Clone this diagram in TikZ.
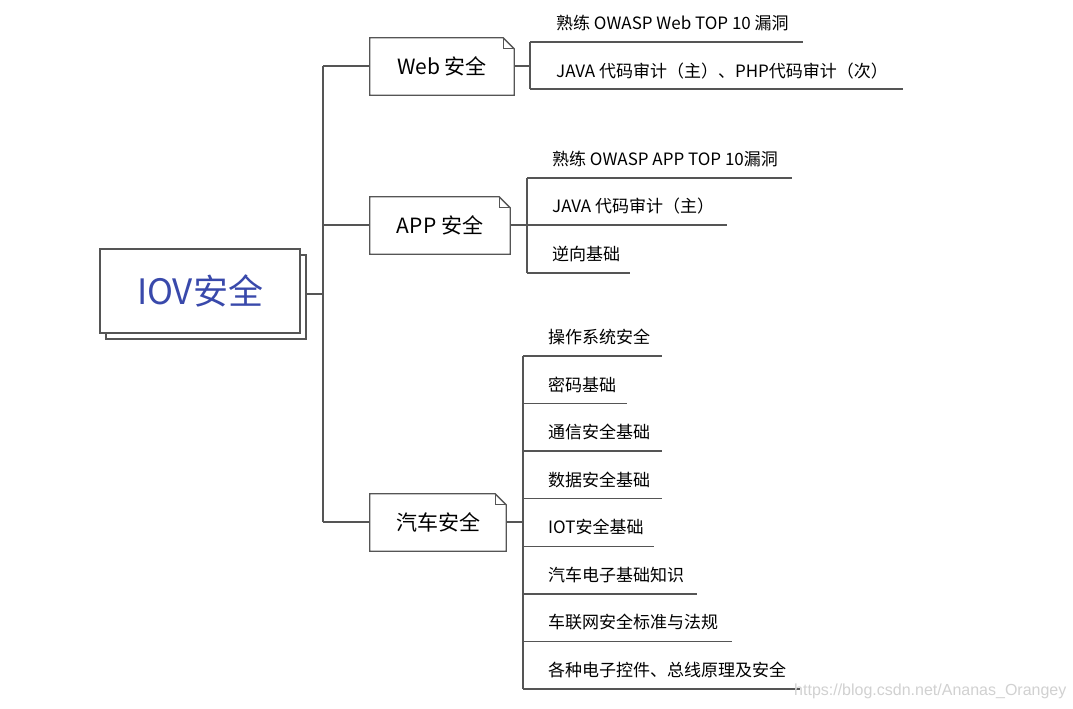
\documentclass[tikz,border=0pt]{standalone}
\usepackage{fontspec}
\setmainfont{Noto Sans CJK SC}
\newfontfamily\wmfont{Liberation Sans}
\definecolor{linec}{HTML}{555555}
\definecolor{rootblue}{HTML}{3949AB}
\begin{document}
\begin{tikzpicture}[x=1pt,y=-1pt,
  ln/.style={draw=linec,line width=1.3pt},
  rootbox/.style={draw=linec,line width=1.3pt,fill=white,minimum width=200pt,minimum height=84pt,inner sep=0pt},
  topicbox/.style={minimum height=57pt,inner sep=0pt,font=\fontsize{21}{24}\selectfont},
  leaf/.style={anchor=west,inner sep=0pt,font=\fontsize{17}{20}\selectfont}]
\useasboundingbox (0,0) rectangle (1073,709);
\fill[white] (0,0) rectangle (1073,709);

% root
\node[rootbox] (rootback) at (206,297) {};
\node[rootbox,text=rootblue,font=\fontsize{35}{40}\selectfont] (root) at (200,291) {IOV安全};

% topic boxes
\node[topicbox,minimum width=144pt] (web) at (442,66.5) {Web 安全};
\node[topicbox,minimum width=140pt] (app) at (440,225.5) {APP 安全};
\node[topicbox,minimum width=136pt] (car) at (438,522.5) {汽车安全};
\foreach \b in {web,app,car}{
  \draw[ln,line join=miter] (\b.north west) -- ([xshift=-11pt]\b.north east) -- ([yshift=-11pt]\b.north east) -- (\b.south east) -- (\b.south west) -- cycle;
  \draw[ln,line width=1pt] ([xshift=-11pt]\b.north east) |- ([yshift=-11pt]\b.north east);
}

% trunk
\coordinate (tr) at (323,294);
\coordinate (trw) at (323,66);
\coordinate (tra) at (323,225);
\coordinate (trc) at (323,522);
\draw[ln] (rootback.east |- tr) -- (tr);
\draw[ln] (trw) -- (trc);
\draw[ln] (trw) -- (web.west |- trw);
\draw[ln] (tra) -- (app.west |- tra);
\draw[ln] (trc) -- (car.west |- trc);

% Web leaves
\coordinate (wv1) at (530,42);
\coordinate (wv2) at (530,89);
\coordinate (wvm) at (530,66);
\draw[ln] (web.east |- wvm) -- (wvm);
\draw[ln] (wv1) -- (wv2);
\node[leaf] (w1) at (556,23) {熟练 OWASP Web TOP 10 漏洞};
\node[leaf] (w2) at (556,71) {JAVA 代码审计（主）、PHP代码审计（次）};
\coordinate (w1e) at (803,42);
\coordinate (w2e) at (903,89);
\draw[ln] (wv1) -- (w1e);
\draw[ln] (wv2) -- (w2e);

% APP leaves
\coordinate (av1) at (527,178);
\coordinate (av2) at (527,225);
\coordinate (av3) at (527,273);
\draw[ln] (app.east |- av2) -- (av2);
\draw[ln] (av1) -- (av3);
\node[leaf] (a1) at (552,159) {熟练 OWASP APP TOP 10漏洞};
\node[leaf] (a2) at (552,206) {JAVA 代码审计（主）};
\node[leaf] (a3) at (552,254) {逆向基础};
\coordinate (a1e) at (792,178);
\coordinate (a2e) at (727,225);
\coordinate (a3e) at (630,273);
\draw[ln] (av1) -- (a1e);
\draw[ln] (av2) -- (a2e);
\draw[ln] (av3) -- (a3e);

% car leaves
\coordinate (cvm) at (523,522);
\draw[ln] (car.east |- cvm) -- (cvm);
\draw[ln] (523,356) -- (523,689);
\foreach \i/\t/\e [evaluate=\i as \yy using 356+(\i-1)*47.57] in
  {1/操作系统安全/662, 2/密码基础/627, 3/通信安全基础/662, 4/数据安全基础/662,
   5/IOT安全基础/654, 6/汽车电子基础知识/697, 7/车联网安全标准与法规/732,
   8/各种电子控件、总线原理及安全/800}{
  \node[leaf] (c\i) at (548,\yy-19) {\t};
  \coordinate (cs\i) at (523,\yy);
  \coordinate (ce\i) at (\e,\yy);
  \draw[ln] (cs\i) -- (ce\i);
}

% watermark
\node[anchor=west,inner sep=0pt,text=black!18,font=\wmfont\fontsize{16}{18}\selectfont] (wm) at (794,691) {https://blog.csdn.net/Ananas\_Orangey};
\end{tikzpicture}
\end{document}
